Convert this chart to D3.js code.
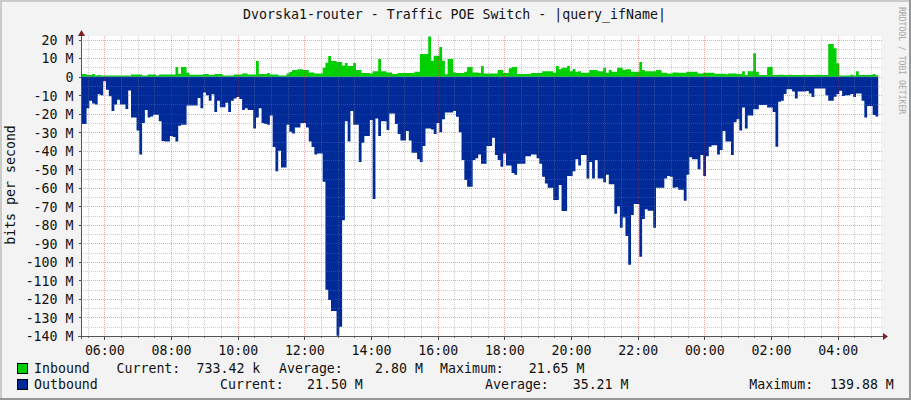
<!DOCTYPE html>
<html><head><meta charset="utf-8">
<script src="https://cdn.jsdelivr.net/npm/d3@7"></script>
<style>html,body{margin:0;padding:0;background:#f3f3f3}svg{display:block}
text{font-family:"DejaVu Sans Mono",monospace;font-size:13.25px;fill:#111}</style>
</head><body><div id="c"></div>
<script>
const title = "Dvorska1-router - Traffic POE Switch - |query_ifName|";
const inbound = [1.4,1.4,.9,.9,1.4,.7,.9,.7,.7,.7,
.7,.7,.7,.7,.7,.7,.7,.7,1.2,1.2,
1.2,1.2,.7,.7,1.2,1.2,1.2,.7,1.2,1.2,
1.2,1.2,1.2,1.2,5.2,1.4,5.2,5.2,2.2,1,
1,1,1,1,1.4,1.4,.9,.9,1.4,1.4,
1.4,.7,.7,.7,.7,1.2,1.2,1.2,1.8,1.8,
1.2,1.2,1.2,8.5,1.4,1.4,1.4,2,1.2,1.2,
1.2,.7,.7,.7,1.8,2.7,3.6,3.6,4,4,
3.6,3.6,2.3,2.3,1.8,1.8,1.8,4.9,7.6,11.2,
8.5,8.5,7.9,7.9,6,7.4,5.8,5.8,7.4,3.6,
3.6,2,2,2,1.8,3,3,9.5,3,3,
2.3,2.3,1.4,1.4,2,2,2,2,2,2,
2.7,2.7,12.2,12.2,12.2,21.65,8.6,11.3,11.3,16,
8.6,1.3,9.5,9.5,2.3,2,2,2,2.7,5.2,
5.2,2.3,2.3,2,5.8,1.8,1.8,1.8,1.8,1.8,
3.6,3.6,2,2,4.5,5.2,5.2,1.4,1.4,1.4,
1.4,1.4,2,2,2,2,3,3,3,3,
2.2,5.8,4,4.9,4.9,5.8,2.9,4.1,2.7,2.9,
2.2,2.2,2.2,3.6,3.6,3.6,3,3,4.9,2.2,
3.6,2.7,2.7,4.9,4.9,3.6,4,4,2.7,2.7,
2.7,7.9,3.6,3,3,3,3,3.6,3.6,2.2,
2.2,1.8,1.8,2.3,2.3,2.2,2.2,2.2,2.7,2.7,
2.7,2.7,1.8,1.8,2.2,2.2,2.2,2.2,1.6,1.6,
1.6,1.6,1.3,1.8,1.8,1.8,1.4,1.4,3,.9,
3,3,12.6,2.7,.9,.9,.9,5.2,5.2,.9,
.9,1.1,1.1,.9,.9,1.1,.9,.9,.9,.9,
1.1,.9,.9,.9,1.1,1.1,.9,.9,.9,17.6,
17.6,15.3,7.2,.7,.7,.7,.7,1,.7,3,
.9,.9,.9,.9,.9,1.4,.73];
const outbound = [25.5,25.5,17,13,14.5,15,9.5,10,2.5,7,
10.5,18.5,15,12.5,15,15,17.5,7.5,22,22,
29,42,25,18,22,21.5,20.5,20.5,24,34.7,
35,35,32,32.5,35,26.5,26,26,15.5,15.5,
15.5,15.5,11.5,17,8.5,10,13,9.5,19,13,
16.5,16.5,14,19,13,11.7,11,12,18,17,
18,18,28,22,17,25,25.5,26,21,38,
51,40,49,49,26,29.7,30.6,27.4,27.4,25,
25,27.4,35,38,42,41.4,41.4,56.7,115,120.6,
126.5,126.5,139.88,135,77.5,24,35,18.5,26,26,
46,35.6,32,32,23.4,66,22.5,32,24,24,
28.8,19.8,19.8,25.6,31,34.5,34.5,29.3,34.5,41,
41,44.6,46,37.4,28,28,28.5,31,25,30,
23,19.3,19.3,19.3,18.5,21.6,30,45,55.8,59.4,
59.4,45,44,42,47,47,37.4,37.4,33,42.3,
45,48.6,41.4,47.9,47.9,52,53,47,47,47,
43,43,42,42,44,47,54,57.6,60,60,
66.6,66.6,58.5,72.5,72.5,53.6,53.6,51,44.6,48,
42.3,42.3,55,46,55,45,55,55,57,53,
58,58,74,70,81.5,76,86,101.5,74.7,68.7,
68.7,97.2,76.8,71.5,72.4,72.4,81.5,60,60,60,
55,53.6,54,60,59.7,61,61,67,53,43.5,
44.6,44.6,50,42.3,53.6,43,37.8,37,37,42,
39.6,29.3,35,35,42.3,24.6,23,29,16.6,28,
21,21,17.6,17.6,15.3,15.3,15.3,16.6,16.6,19,
37.8,13.5,13,9.4,6.8,6.8,8,11.7,8,8,
8,7.7,9,11,6.3,6.3,6.3,6.3,10,13,
13,10.8,9.4,7.6,10.4,10,10,9.4,11,9,
9,13,22,15.8,15.8,20.7,21.5];
const yTicks = [20,10,0,-10,-20,-30,-40,-50,-60,-70,-80,-90,-100,-110,-120,-130,-140];
const xTickHours = [6,8,10,12,14,16,18,20,22,24,26,28];
const xTickLabels = ["06:00","08:00","10:00","12:00","14:00","16:00","18:00","20:00","22:00","00:00","02:00","04:00"];
const yMinor = [15,5,-5,-15,-25,-35,-45,-55,-65,-75,-85,-95,-105,-115,-125,-135];
const legendRows = [
 [["Inbound",34],["Current:",116.5],["733.42 k",196.5],["Average:",279],["2.80 M",375],["Maximum:",440],["21.65 M",528.7]],
 [["Outbound",34],["Current:",220],["21.50 M",307],["Average:",485],["35.21 M",572.7],["Maximum:",749.3],["139.88 M",830]]
];
const legendColors = ["#00CF00","#002A97"];

const W=911,H=400,L=81,R=881,T=36,B=336;
const startHour=5.3, spanHours=24, stepHours=5/60;
const x=d3.scaleLinear().domain([startHour,startHour+spanHours]).range([L,R]);
const y=d3.scaleLinear().domain([21.98,-140]).range([T,B]);
const svg=d3.select("#c").append("svg").attr("width",W).attr("height",H);
svg.append("rect").attr("width",W).attr("height",H).attr("fill","#f3f3f3");
svg.append("path").attr("d",`M0 1H${W}M1 0V${H}`).attr("stroke","#cbcbcb").attr("stroke-width",2);
svg.append("path").attr("d",`M0 ${H-1}H${W}M${W-1} 0V${H}`).attr("stroke","#969696").attr("stroke-width",2);
svg.append("rect").attr("x",L).attr("y",T).attr("width",R-L).attr("height",B-T).attr("fill","#fff");
const t=i=>startHour+i*stepHours;
const addArea=(data,sign,col)=>{
  const pts=data.concat([data[data.length-1]]);
  svg.append("path").datum(pts)
   .attr("d",d3.area().curve(d3.curveStepAfter).x((d,i)=>x(t(i))).y0(y(0)).y1(d=>y(sign*d)))
   .attr("fill",col);
};
addArea(inbound,1,legendColors[0]);
addArea(outbound,-1,legendColors[1]);
const minorHours=d3.range(0,48).map(k=>5.5+k*0.5).filter(h=>h<startHour+spanHours&&!xTickHours.includes(h));
const g=svg.append("g").attr("fill","none").attr("stroke-dasharray","1,1").attr("shape-rendering","crispEdges");
const minorCol="#808080", majorCol="#e62020";
g.selectAll(".vm").data(minorHours).join("line").attr("x1",d=>Math.round(x(d))+.5).attr("x2",d=>Math.round(x(d))+.5).attr("y1",T).attr("y2",B).attr("stroke",minorCol).attr("stroke-opacity",.4);
g.selectAll(".hm").data(yMinor).join("line").attr("x1",L).attr("x2",R+1).attr("y1",d=>Math.round(y(d))+.5).attr("y2",d=>Math.round(y(d))+.5).attr("stroke",minorCol).attr("stroke-opacity",.4);
g.selectAll(".vM").data(xTickHours).join("line").attr("x1",d=>Math.round(x(d))+.5).attr("x2",d=>Math.round(x(d))+.5).attr("y1",T).attr("y2",B).attr("stroke",majorCol).attr("stroke-opacity",.4);
g.selectAll(".hM").data(yTicks).join("line").attr("x1",L).attr("x2",R+1).attr("y1",d=>Math.round(y(d))+.5).attr("y2",d=>Math.round(y(d))+.5).attr("stroke",majorCol).attr("stroke-opacity",.4);
const yAxis=d3.axisLeft(y).tickValues(yTicks).tickSize(3).tickPadding(5).tickFormat(d=>d===0?"0":`${d<0?"-":""}${Math.abs(d)} M`);
const ya=svg.append("g").attr("transform",`translate(${L+.5},0)`).call(yAxis);
ya.select(".domain").remove();
ya.selectAll(".tick line").attr("stroke","#444").attr("shape-rendering","crispEdges");
ya.selectAll("text").attr("fill","#111").style("font-size","13.25px").style("font-family",'"DejaVu Sans Mono",monospace').attr("dy","0.36em");
const xAxis=d3.axisBottom(x).tickValues(xTickHours).tickSize(3).tickPadding(6).tickFormat((d,i)=>xTickLabels[i]);
const xa=svg.append("g").attr("transform",`translate(0,${B+.5})`).call(xAxis);
xa.select(".domain").remove();
xa.selectAll(".tick line").attr("stroke","#444").attr("shape-rendering","crispEdges");
xa.selectAll("text").attr("fill","#111").style("font-size","13.25px").style("font-family",'"DejaVu Sans Mono",monospace');
svg.append("g").selectAll("line").data(minorHours).join("line").attr("x1",d=>Math.round(x(d))+.5).attr("x2",d=>Math.round(x(d))+.5).attr("y1",B).attr("y2",B+2).attr("stroke","#777");
svg.append("line").attr("x1",L+.5).attr("x2",L+.5).attr("y1",T).attr("y2",B+3).attr("stroke","#555");
svg.append("line").attr("x1",L-3).attr("x2",884).attr("y1",B+.5).attr("y2",B+.5).attr("stroke","#555");
svg.append("path").attr("d",`M${L-3} 36L${L+.5} 30L${L+4} 36Z`).attr("fill","#7f1f1f");
svg.append("path").attr("d",`M883 ${B-3}L888 ${B+.5}L883 ${B+4}Z`).attr("fill","#7f1f1f");
svg.append("text").attr("x",454.5).attr("y",19).attr("text-anchor","middle").text(title);
svg.append("text").attr("transform","translate(15,185) rotate(-90)").attr("text-anchor","middle").text("bits per second");
svg.append("text").attr("transform","translate(899,7) rotate(90)").style("font-size","8.1px").style("fill","#a6a6a6").text("RRDTOOL / TOBI OETIKER");
legendRows.forEach((row,k)=>{
  const yb=373+k*16;
  svg.append("rect").attr("x",17.5).attr("y",363.5+k*16).attr("width",10).attr("height",10).attr("fill",legendColors[k]).attr("stroke","#000");
  row.forEach(([s,px])=>svg.append("text").attr("x",px).attr("y",yb).text(s));
});
</script></body></html>
